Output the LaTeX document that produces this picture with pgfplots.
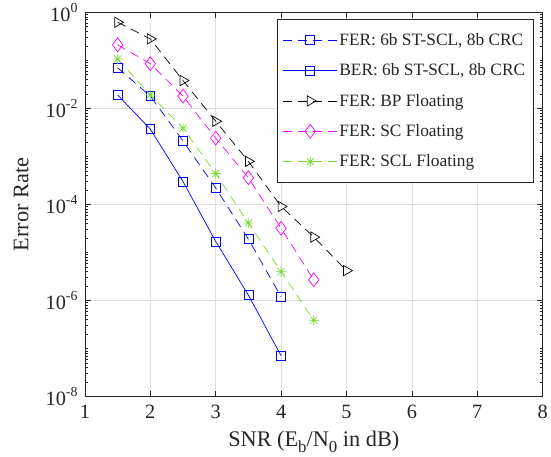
\documentclass[border=0pt]{standalone}
\usepackage{fontspec}
\setmainfont{Liberation Serif}
\usepackage{pgfplots}
\pgfplotsset{compat=1.18}

\definecolor{mblue}{rgb}{0,0,1}
\definecolor{mmag}{rgb}{1,0,1}
\definecolor{mgreen}{rgb}{0.47,0.85,0.19}
\definecolor{axgray}{rgb}{0.15,0.15,0.15}

% MATLAB-like 8-arm star
\pgfdeclareplotmark{mstar}{%
  \pgfpathmoveto{\pgfqpoint{0pt}{\pgfplotmarksize}}\pgfpathlineto{\pgfqpoint{0pt}{-\pgfplotmarksize}}%
  \pgfpathmoveto{\pgfqpoint{\pgfplotmarksize}{0pt}}\pgfpathlineto{\pgfqpoint{-\pgfplotmarksize}{0pt}}%
  \pgfpathmoveto{\pgfqpoint{0.707\pgfplotmarksize}{0.707\pgfplotmarksize}}\pgfpathlineto{\pgfqpoint{-0.707\pgfplotmarksize}{-0.707\pgfplotmarksize}}%
  \pgfpathmoveto{\pgfqpoint{0.707\pgfplotmarksize}{-0.707\pgfplotmarksize}}\pgfpathlineto{\pgfqpoint{-0.707\pgfplotmarksize}{0.707\pgfplotmarksize}}%
  \pgfusepathqstroke}

\newcommand{\tp}[1]{10\raisebox{0.42em}{\fontsize{14}{14}\selectfont #1}}
\newcommand{\sub}[1]{\raisebox{-0.3em}{\fontsize{17}{17}\selectfont #1}}

\begin{document}
\begin{tikzpicture}
\begin{semilogyaxis}[
    scale only axis,
    width=462pt, height=388pt,
    xmin=1, xmax=8, ymin=1e-8, ymax=1,
    xtick={1,2,...,8},
    ytick={1e-8,1e-6,1e-4,1e-2,1},
    yticklabels={\tp{-8},\tp{-6},\tp{-4},\tp{-2},\tp{0}},
    minor ytick={2e-8,3e-8,4e-8,5e-8,6e-8,7e-8,8e-8,9e-8,1e-7,2e-7,3e-7,4e-7,5e-7,6e-7,7e-7,8e-7,9e-7,
                 2e-6,3e-6,4e-6,5e-6,6e-6,7e-6,8e-6,9e-6,1e-5,2e-5,3e-5,4e-5,5e-5,6e-5,7e-5,8e-5,9e-5,
                 2e-4,3e-4,4e-4,5e-4,6e-4,7e-4,8e-4,9e-4,1e-3,2e-3,3e-3,4e-3,5e-3,6e-3,7e-3,8e-3,9e-3,
                 2e-2,3e-2,4e-2,5e-2,6e-2,7e-2,8e-2,9e-2,1e-1,2e-1,3e-1,4e-1,5e-1,6e-1,7e-1,8e-1,9e-1},
    /pgf/number format/assume math mode=true,
    tick align=inside,
    major tick length=6pt, minor tick length=3pt,
    tick style={axgray, line width=0.6pt},
    axis line style={axgray, line width=0.8pt},
    grid=major,
    major grid style={gray!25, line width=0.6pt},
    minor grid style={draw=none},
    ticklabel style={font=\fontsize{20.5}{22}\selectfont, text=axgray},
    yticklabel style={xshift=-4pt},
    xticklabel style={yshift=-5pt},
    xlabel={SNR (E\sub{b}/N\sub{0} in dB)},
    ylabel={Error Rate},
    every axis x label/.style={at={(rel axis cs:0.5,0)}, anchor=base, yshift=-50pt,
        font=\fontsize{22.5}{24}\selectfont, text=axgray},
    every axis y label/.style={at={(rel axis cs:0,0.5)}, xshift=-57pt, anchor=base, rotate=90,
        inner ysep=14pt, font=\fontsize{22.5}{24}\selectfont, text=axgray},
    legend style={at={(0.98,0.982)}, anchor=north east,
        font=\fontsize{17.5}{19}\selectfont, draw=axgray, line width=0.8pt,
        row sep=13pt, inner xsep=6pt, inner ysep=12pt, text=axgray,
        /tikz/every even column/.append style={column sep=4pt}},
    legend cell align=left,
    legend image code/.code={\draw[mark repeat=2,mark phase=2]
        plot coordinates {(0cm,0cm) (0.95cm,0cm) (1.9cm,0cm)};},
    every axis plot/.append style={line width=0.7pt},
]
\addplot[mblue, dash pattern=on 9pt off 6pt, mark=square, mark size=4.5pt, mark options={solid}]
coordinates {(1.5,0.07) (2,0.018) (2.5,2.1e-3) (3,2.2e-4) (3.5,1.9e-5) (4,1.2e-6)};
\addlegendentry{FER: 6b ST-SCL, 8b CRC}
\addplot[mblue, solid, mark=square, mark size=4.5pt]
coordinates {(1.5,0.019) (2,3.7e-3) (2.5,3.0e-4) (3,1.7e-5) (3.5,1.3e-6) (4,7.1e-8)};
\addlegendentry{BER: 6b ST-SCL, 8b CRC}
\addplot[black, dash pattern=on 9pt off 6pt, mark=triangle, mark size=6pt, mark options={solid, rotate=-90}]
coordinates {(1.5,0.62) (2,0.28) (2.5,0.038) (3,5.4e-3) (3.5,7.9e-4) (4,9.1e-5) (4.5,2.1e-5) (5,4.2e-6)};
\addlegendentry{FER: BP Floating}
\addplot[mmag, dash pattern=on 9pt off 6pt, mark=diamond, mark size=7pt, mark options={solid}]
coordinates {(1.5,0.21) (2,0.085) (2.5,0.018) (3,2.4e-3) (3.5,3.6e-4) (4,3.2e-5) (4.5,2.7e-6)};
\addlegendentry{FER: SC Floating}
\addplot[mgreen, dash pattern=on 9pt off 6pt, mark=mstar, mark size=5pt, mark options={solid}]
coordinates {(1.5,0.107) (2,0.019) (2.5,3.9e-3) (3,4.4e-4) (3.5,4.1e-5) (4,4.0e-6) (4.5,3.9e-7)};
\addlegendentry{FER: SCL Floating}
\end{semilogyaxis}
\end{tikzpicture}
\end{document}
